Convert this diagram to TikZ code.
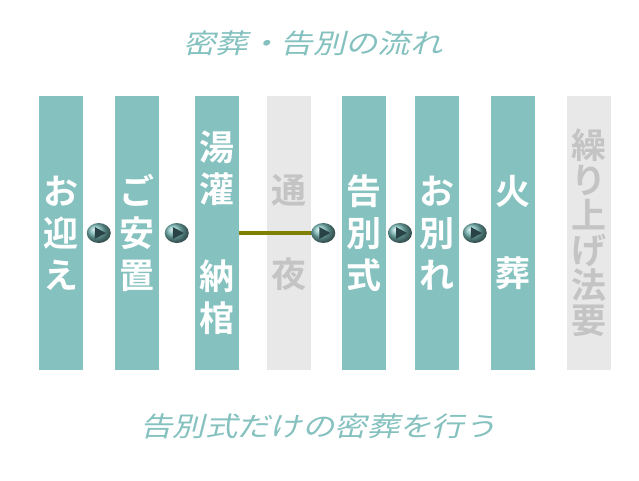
\documentclass[tikz,border=0pt]{standalone}
\usepackage{fontspec}
\usepackage{tikz}
\usetikzlibrary{shapes.geometric, calc}
\newfontfamily\jpfont[BoldFont={Noto Sans CJK JP Bold}]{Noto Sans CJK JP}
\newfontfamily\jpslant[FakeSlant=0.25,FakeStretch=1.2]{Noto Sans CJK JP}
\definecolor{colteal}{RGB}{132,193,191}
\definecolor{colgray}{RGB}{232,232,232}
\definecolor{txtgray}{RGB}{196,196,196}
\definecolor{linkolive}{RGB}{128,128,0}
\definecolor{btnteal}{RGB}{120,185,183}
\definecolor{btndark}{RGB}{40,66,70}
\tikzstyle{stage} = [rectangle, minimum width=44pt, minimum height=274pt, inner sep=0pt, align=center, text=white, fill=colteal, font=\jpfont\bfseries\fontsize{35}{42}\selectfont]
\tikzstyle{skipped} = [stage, fill=colgray, text=txtgray]
\tikzstyle{button} = [ellipse, minimum width=24pt, minimum height=20pt, inner sep=0pt, ball color=btnteal, path picture={\fill[btndark] ($(path picture bounding box.center)+(-4pt,-6pt)$) -- ($(path picture bounding box.center)+(7pt,0pt)$) -- ($(path picture bounding box.center)+(-4pt,6pt)$) -- cycle;}]
\tikzstyle{heading} = [text=colteal, font=\jpslant\fontsize{27}{30}\selectfont]
\tikzstyle{link} = [line width=3.5pt, draw=linkolive]

\begin{document}
\begin{tikzpicture}[x=1pt, y=-1pt]
        \useasboundingbox (0,0) rectangle (639,480);
        \node (title) [heading] at (313,43) {密葬・告別の流れ};

        \node (mukae) [stage] at (61,233) {お\\迎\\え};
        \node (anchi) [stage] at (136.5,233) {ご\\安\\置};
        \node (yukan) [stage] at (217,233) {湯\\灌\\[45pt]納\\棺};
        \node (tsuya) [skipped] at (289,233) {通\\[42pt]夜};
        \node (kokubetsu) [stage] at (363.5,233) {告\\別\\式};
        \node (owakare) [stage] at (436.5,233) {お\\別\\れ};
        \node (kaso) [stage] at (513,233) {火\\[40pt]葬};
        \node (hoyo) [skipped, font=\jpfont\bfseries\fontsize{35}{35}\selectfont] at (589,233) {繰\\り\\上\\げ\\法\\要};

        \node (b1) [button] at ($(mukae.east)!0.5!(anchi.west)$) {};
        \node (b2) [button] at ($(anchi.east)!0.5!(yukan.west)$) {};
        \node (b3) [button] at ($(kokubetsu.west)+(-18,0)$) {};
        \node (b4) [button] at ($(kokubetsu.east)!0.5!(owakare.west)$) {};
        \node (b5) [button] at ($(owakare.east)!0.5!(kaso.west)$) {};
        \draw [link] (yukan.east) -- (b3.west);

        \node (caption) [heading] at (318.5,426) {告別式だけの密葬を行う};
    \end{tikzpicture}
\end{document}
